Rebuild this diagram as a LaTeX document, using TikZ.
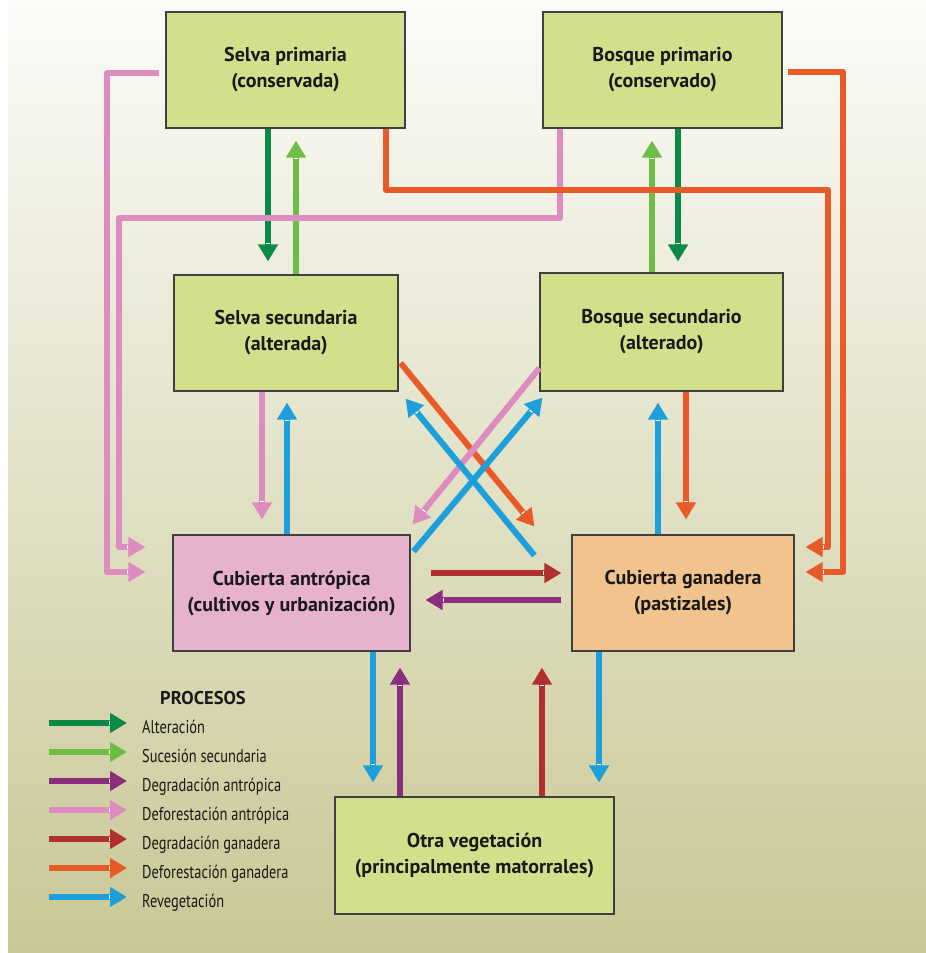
\documentclass[tikz,border=0pt]{standalone}
\usepackage{fontspec}
\setmainfont{PT Sans}
\newfontfamily\leyfont{PT Sans}[FakeStretch=0.78]
\usetikzlibrary{arrows.meta}

% colores de cajas y fondo
\definecolor{cajaVerde}{HTML}{D3E08B}
\definecolor{cajaRosa}{HTML}{E6B2CD}
\definecolor{cajaNaranja}{HTML}{F1C48D}
\definecolor{fondoAlto}{HTML}{FBFBF9}
\definecolor{fondoMedio}{HTML}{E7E7D0}
\definecolor{fondoBajo}{HTML}{C9C895}
% colores de procesos
\definecolor{pAlteracion}{HTML}{0B8A47}
\definecolor{pSucesion}{HTML}{6CBE45}
\definecolor{pDegAntr}{HTML}{8B2C7C}
\definecolor{pDefAntr}{HTML}{DE8BBF}
\definecolor{pDegGan}{HTML}{B12F2F}
\definecolor{pDefGan}{HTML}{E85A27}
\definecolor{pReveg}{HTML}{1C9FDB}

\tikzset{
    caja/.style={draw=black!75, line width=1.1pt, fill=cajaVerde, align=center, text=black!90,
        font=\fontsize{20}{26}\selectfont\bfseries},
    flujo/.style={line width=6pt, line join=round,
        -{Bar[white,width=3.5pt,line width=1.5pt,sep=0pt] Triangle[width=19pt,length=17pt]}},
    alter/.style={flujo, draw=pAlteracion},
    suces/.style={flujo, draw=pSucesion},
    degAntr/.style={flujo, draw=pDegAntr},
    defAntr/.style={flujo, draw=pDefAntr},
    degGan/.style={flujo, draw=pDegGan},
    defGan/.style={flujo, draw=pDefGan},
    reveg/.style={flujo, draw=pReveg},
    leyenda/.style={anchor=west, inner sep=0pt, text height=12pt, text depth=3pt,
        font=\leyfont\fontsize{18.5}{22}\selectfont, text=black!90}
}

\begin{document}
\begin{tikzpicture}[x=1pt, y=-1pt]
\useasboundingbox (0,0) rectangle (926,953);
\fill[white] (0,0) rectangle (926,953);
\shade[top color=fondoAlto, middle color=fondoMedio, bottom color=fondoBajo] (8,0) rectangle (926,953);

% cajas
\node[caja, minimum width=239pt, minimum height=116pt] (selvaP) at (285.5,70) {Selva primaria\\(conservada)};
\node[caja, minimum width=239pt, minimum height=116pt] (bosqueP) at (662.5,70) {Bosque primario\\(conservado)};
\node[caja, minimum width=224pt, minimum height=116pt] (selvaS) at (286,333) {Selva secundaria\\(alterada)};
\node[caja, minimum width=243pt, minimum height=118pt] (bosqueS) at (661.5,332) {Bosque secundario\\(alterado)};
\node[caja, fill=cajaRosa, minimum width=237pt, minimum height=116pt] (cubAntr) at (291.5,593) {Cubierta antrópica\\(cultivos y urbanización)};
\node[caja, fill=cajaNaranja, minimum width=222pt, minimum height=116pt] (cubGan) at (683,593) {Cubierta ganadera\\(pastizales)};
\node[caja, minimum width=279pt, minimum height=117pt] (otraVeg) at (474.5,855.5) {Otra vegetación\\(principalmente matorrales)};

% primaria <-> secundaria
\draw[alter, shorten >=13pt] (268,0 |- selvaP.south) -- (268,0 |- selvaS.north);
\draw[suces, shorten >=12pt] (296,0 |- selvaS.north) -- (296,0 |- selvaP.south);
\draw[suces, shorten >=12pt] (652,0 |- bosqueS.north) -- (652,0 |- bosqueP.south);
\draw[alter, shorten >=11pt] (678,0 |- bosqueP.south) -- (678,0 |- bosqueS.north);

% deforestacion desde primarios (rutas exteriores)
\draw[defAntr, shorten >=27pt] ([shift={(-6pt,-3pt)}]selvaP.west) -| (107,572) -- (cubAntr.west |- 0,572);
\draw[defAntr, shorten >=27pt] (560,0 |- bosqueP.south) |- (119,218) |- (cubAntr.west |- 0,547);
\draw[defGan, shorten >=11pt] (386,0 |- selvaP.south) |- (828,190) |- (cubGan.east |- 0,547);
\draw[defGan, shorten >=11pt] ([shift={(5pt,-2pt)}]bosqueP.east) -| (843,572) -- (cubGan.east |- 0,572);

% secundarios <-> cubiertas
\draw[defAntr, shorten >=15pt] (262,0 |- selvaS.south) -- (262,0 |- cubAntr.north);
\draw[reveg, shorten >=11pt] (287,0 |- cubAntr.north) -- (287,0 |- selvaS.south);
\draw[reveg, shorten >=11pt] (658,0 |- cubGan.north) -- (658,0 |- bosqueS.south);
\draw[defGan, shorten >=15pt] (686,0 |- bosqueS.south) -- (686,0 |- cubGan.north);

% cruces
\draw[defGan] ([shift={(2pt,-30pt)}]selvaS.east) -- ([shift={(-37pt,8pt)}]cubGan.north west);
\draw[defAntr] ([shift={(0pt,-36pt)}]bosqueS.west) -- ([shift={(2pt,10pt)}]cubAntr.north east);
\draw[reveg] ([shift={(-37pt,-21pt)}]cubGan.north west) -- ([shift={(7pt,-7pt)}]selvaS.south east);
\draw[reveg] ([shift={(3pt,-17pt)}]cubAntr.north east) -- ([shift={(3pt,-6pt)}]bosqueS.south west);

% entre cubiertas
\draw[degGan, shorten <=20pt, shorten >=10pt] (cubAntr.east |- 0,573) -- (cubGan.west |- 0,573);
\draw[degAntr, shorten <=10pt, shorten >=15pt] (cubGan.west |- 0,600) -- (cubAntr.east |- 0,600);

% cubiertas <-> otra vegetacion
\draw[reveg, shorten >=14pt] (373,0 |- cubAntr.south) -- (373,0 |- otraVeg.north);
\draw[degAntr, shorten >=16pt] (400,0 |- otraVeg.north) -- (400,0 |- cubAntr.south);
\draw[degGan, shorten >=16pt] (542,0 |- otraVeg.north) -- (542,0 |- cubGan.south);
\draw[reveg, shorten >=14pt] (599,0 |- cubGan.south) -- (599,0 |- otraVeg.north);

% leyenda
\node[font=\fontsize{18.5}{22}\selectfont\bfseries, text=black!90] (procesos) at (203,698) {PROCESOS};
\foreach \estilo/\texto [count=\i] in {alter/Alteración, suces/Sucesión secundaria,
    degAntr/Degradación antrópica, defAntr/Deforestación antrópica,
    degGan/Degradación ganadera, defGan/Deforestación ganadera, reveg/Revegetación} {
  \node[leyenda] (ley\i) at (142,{728.5+29*(\i-1)}) {\texto};
  \draw[\estilo] ([shift={(-93pt,5.5pt)}]ley\i.west) -- ([shift={(-15pt,5.5pt)}]ley\i.west);
}
\end{tikzpicture}
\end{document}
